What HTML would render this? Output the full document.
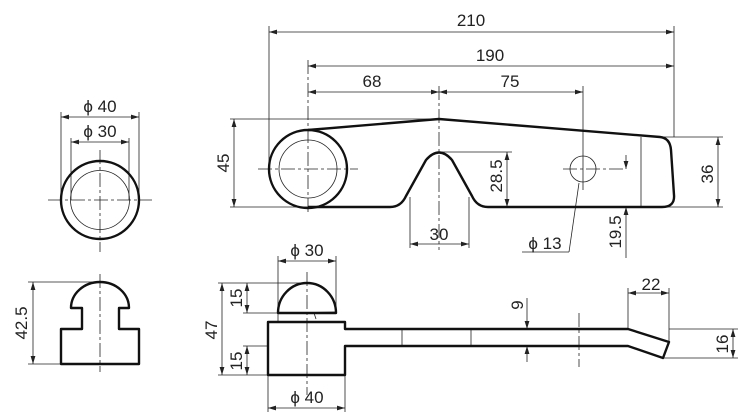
<!DOCTYPE html>
<html><head><meta charset="utf-8"><style>html,body{margin:0;padding:0;background:#fff}svg{display:block}text{font-family:"Liberation Sans",sans-serif;font-size:17px;fill:#222}</style></head><body>
<svg width="738" height="413" viewBox="0 0 738 413" xmlns="http://www.w3.org/2000/svg">
<defs>
<marker id="a" viewBox="0 0 10 6" refX="10" refY="3" markerWidth="8" markerHeight="5" orient="auto-start-reverse" markerUnits="userSpaceOnUse"><path d="M0,0L10,3L0,6z" fill="#222"/></marker>
</defs>
<g fill="none" stroke="#222" stroke-width="0.8">
<line x1="61" y1="112" x2="61" y2="200"/><line x1="139" y1="112" x2="139" y2="200"/>
<line x1="61" y1="117" x2="139" y2="117" marker-start="url(#a)" marker-end="url(#a)"/>
<line x1="71" y1="138" x2="71" y2="200"/><line x1="129" y1="138" x2="129" y2="200"/>
<line x1="71" y1="142" x2="129" y2="142" marker-start="url(#a)" marker-end="url(#a)"/>
<line x1="48" y1="200" x2="152" y2="200" stroke-dasharray="14,3,3,3"/>
<line x1="100" y1="150" x2="100" y2="252" stroke-dasharray="14,3,3,3"/>
<circle cx="100" cy="200" r="29.5"/>
<line x1="100" y1="274" x2="100" y2="372" stroke-dasharray="14,3,3,3"/>
<line x1="28" y1="282" x2="100" y2="282"/><line x1="28" y1="364" x2="61" y2="364"/>
<line x1="33" y1="282" x2="33" y2="364" marker-start="url(#a)" marker-end="url(#a)"/>
<line x1="269" y1="26" x2="269" y2="169"/><line x1="674" y1="26" x2="674" y2="137"/>
<line x1="269" y1="32" x2="674" y2="32" marker-start="url(#a)" marker-end="url(#a)"/>
<line x1="308" y1="60" x2="308" y2="212" stroke-dasharray="14,3,3,3"/>
<line x1="308" y1="66" x2="674" y2="66" marker-start="url(#a)" marker-end="url(#a)"/>
<line x1="439" y1="86" x2="439" y2="250" stroke-dasharray="14,3,3,3"/>
<line x1="308" y1="92" x2="439" y2="92" marker-start="url(#a)" marker-end="url(#a)"/>
<line x1="583" y1="86" x2="583" y2="190"/>
<line x1="439" y1="92" x2="583" y2="92" marker-start="url(#a)" marker-end="url(#a)"/>
<line x1="230" y1="119" x2="439" y2="119"/><line x1="230" y1="207" x2="308" y2="207"/>
<line x1="234" y1="119" x2="234" y2="207" marker-start="url(#a)" marker-end="url(#a)"/>
<line x1="258" y1="169" x2="358" y2="169" stroke-dasharray="14,3,3,3"/>
<circle cx="308" cy="169" r="29"/>
<line x1="439" y1="152" x2="512" y2="152"/>
<line x1="507" y1="152" x2="507" y2="207" marker-start="url(#a)" marker-end="url(#a)"/>
<line x1="410" y1="197" x2="410" y2="248"/><line x1="469" y1="197" x2="469" y2="248"/>
<line x1="410" y1="244" x2="469" y2="244" marker-start="url(#a)" marker-end="url(#a)"/>
<circle cx="583" cy="169" r="13"/>
<line x1="563" y1="169" x2="626" y2="169" stroke-dasharray="14,3,3,3"/>
<line x1="579" y1="183" x2="569" y2="252"/><line x1="569" y1="252" x2="522" y2="252"/>
<line x1="626" y1="155" x2="626" y2="169" marker-end="url(#a)"/>
<line x1="626" y1="258" x2="626" y2="207" marker-end="url(#a)"/>
<line x1="641" y1="137" x2="641" y2="207"/>
<line x1="660" y1="137" x2="723" y2="137"/><line x1="660" y1="207" x2="723" y2="207"/>
<line x1="718" y1="137" x2="718" y2="207" marker-start="url(#a)" marker-end="url(#a)"/>
<line x1="278" y1="256" x2="278" y2="322"/><line x1="336" y1="256" x2="336" y2="313"/>
<line x1="278" y1="261" x2="336" y2="261" marker-start="url(#a)" marker-end="url(#a)"/>
<line x1="307" y1="272" x2="307" y2="395" stroke-dasharray="14,3,3,3"/>
<line x1="218" y1="283" x2="307" y2="283"/><line x1="243" y1="313" x2="278" y2="313"/>
<line x1="218" y1="375" x2="268" y2="375"/><line x1="243" y1="346" x2="268" y2="346"/>
<line x1="247" y1="283" x2="247" y2="313" marker-start="url(#a)" marker-end="url(#a)"/>
<line x1="247" y1="346" x2="247" y2="375" marker-start="url(#a)" marker-end="url(#a)"/>
<line x1="222" y1="283" x2="222" y2="375" marker-start="url(#a)" marker-end="url(#a)"/>
<line x1="268" y1="375" x2="268" y2="412"/><line x1="345" y1="375" x2="345" y2="412"/>
<line x1="268" y1="408" x2="345" y2="408" marker-start="url(#a)" marker-end="url(#a)"/>
<line x1="402" y1="329" x2="402" y2="346"/><line x1="471" y1="329" x2="471" y2="346"/>
<line x1="579" y1="313" x2="579" y2="367" stroke-dasharray="14,3,3,3"/>
<line x1="527" y1="298" x2="527" y2="329" marker-end="url(#a)"/>
<line x1="527" y1="362" x2="527" y2="346" marker-end="url(#a)"/>
<line x1="628" y1="288" x2="628" y2="329"/><line x1="669" y1="288" x2="669" y2="342"/>
<line x1="628" y1="293" x2="669" y2="293" marker-start="url(#a)" marker-end="url(#a)"/>
<line x1="669" y1="329" x2="738" y2="329"/><line x1="663" y1="358" x2="738" y2="358"/>
<line x1="733" y1="329" x2="733" y2="358" marker-start="url(#a)" marker-end="url(#a)"/>
<path d="M280,313 L336,312 M314,313 l2,6"/>
</g>
<g fill="none" stroke="#111" stroke-width="2.4" stroke-linejoin="round">
<circle cx="100" cy="200" r="39"/>
<path d="M71,308 A29,26 0 0 1 129,308 L119,308 L119,329 L139,329 L139,364 L61,364 L61,329 L82,329 L82,308 Z"/>
<circle cx="308" cy="169" r="39"/>
<path d="M308,130 L439,119 L660,137 Q670,138 671,150 L674,195 Q675,207 662,207 L488,207 Q477,207 472,196 L452,160 Q439,145 426,160 L406,196 Q401,207 390,207 L308,207"/>
<path d="M278,313 A29,30 0 0 1 336,313 Z"/>
<path d="M268,322 L345,322 L345,329 L628,329 L669,342 L663,358 L628,346 L345,346 L345,375 L268,375 Z"/>
</g>
<g text-anchor="middle">
<text x="100" y="112">ϕ 40</text><text x="100" y="137">ϕ 30</text>
<text x="471" y="26">210</text><text x="490" y="61">190</text>
<text x="372" y="87">68</text><text x="510" y="87">75</text>
<text x="439" y="240">30</text><text x="545" y="249">ϕ 13</text>
<text x="307" y="256">ϕ 30</text><text x="307" y="403">ϕ 40</text>
<text x="651" y="290">22</text>
<text transform="translate(27,323) rotate(-90)">42.5</text>
<text transform="translate(229,163) rotate(-90)">45</text>
<text transform="translate(502,176) rotate(-90)">28.5</text>
<text transform="translate(621,232) rotate(-90)">19.5</text>
<text transform="translate(713,174) rotate(-90)">36</text>
<text transform="translate(523,305) rotate(-90)">9</text>
<text transform="translate(242,298) rotate(-90)">15</text>
<text transform="translate(242,361) rotate(-90)">15</text>
<text transform="translate(217,330) rotate(-90)">47</text>
<text transform="translate(728,344) rotate(-90)">16</text>
</g>
</svg>
</body></html>
